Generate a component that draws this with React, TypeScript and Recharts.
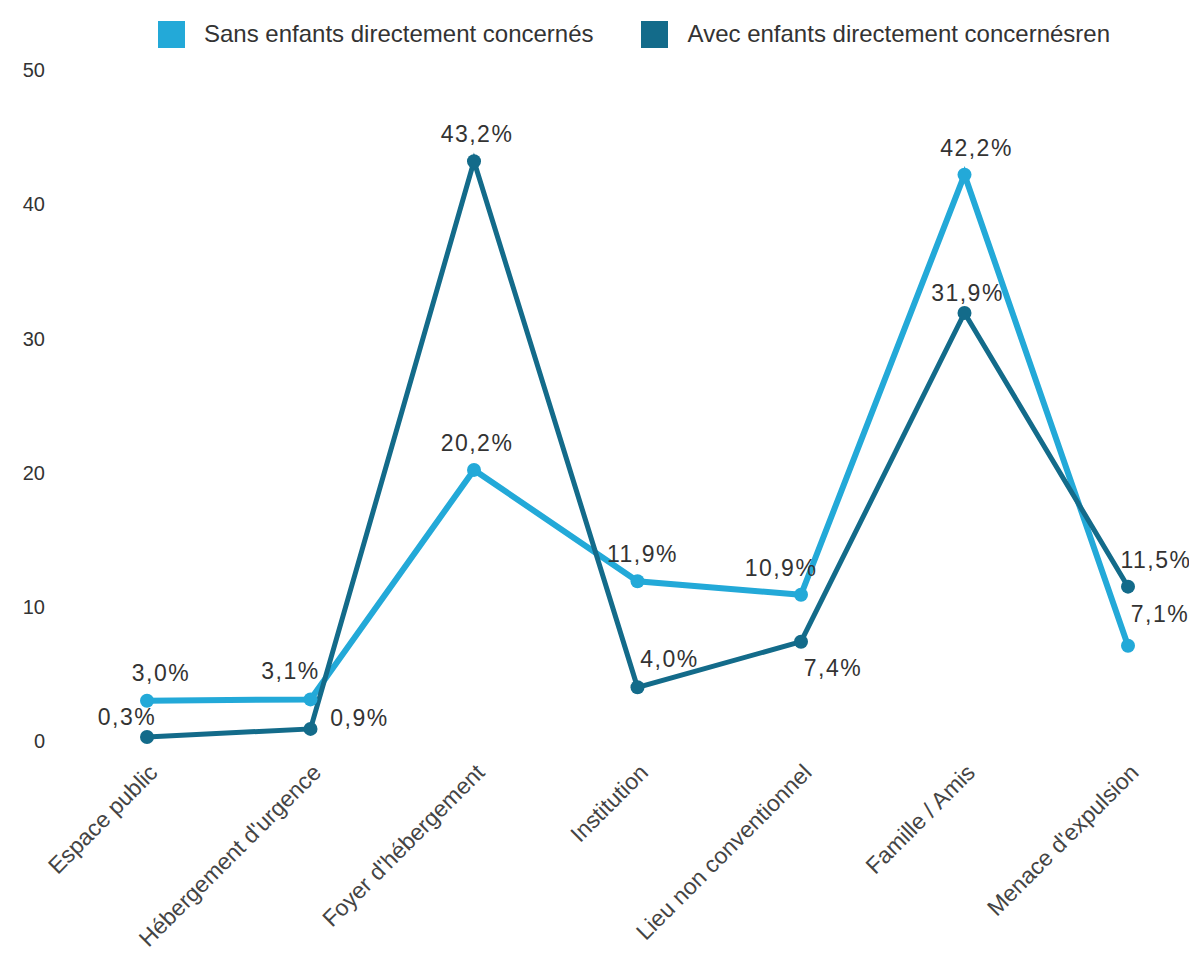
import React from 'react';
import { LineChart, Line, XAxis, YAxis, Legend, LabelList } from 'recharts';

const categories = [
  'Espace public',
  "Hébergement d'urgence",
  "Foyer d'hébergement",
  'Institution',
  'Lieu non conventionnel',
  'Famille / Amis',
  "Menace d'expulsion",
];
const sansEnfants = [3.0, 3.1, 20.2, 11.9, 10.9, 42.2, 7.1];
const avecEnfants = [0.3, 0.9, 43.2, 4.0, 7.4, 31.9, 11.5];
const yTicks = [0, 10, 20, 30, 40, 50];

const seriesNames = {
  sans: 'Sans enfants directement concernés',
  avec: 'Avec enfants directement concernésren',
};

const data = categories.map((name, i) => ({
  name,
  sans: sansEnfants[i],
  avec: avecEnfants[i],
}));

const COLOR_SANS = '#23a9d8';
const COLOR_AVEC = '#136b8a';
const FONT = '"Liberation Sans", Arial, sans-serif';

// label nudges (dx, dy) per point, to avoid collisions like the original
const labelNudgeSans: [number, number][] = [
  [14, -20], [-20, -20], [3, -19], [5, -19], [-20, -19], [12, -19], [32, -24],
];
const labelNudgeAvec: [number, number][] = [
  [-20, -12], [49, -3], [3, -19], [32, -20], [32, 34], [3, -12], [28, -19],
];

const fmt = (v: number) => v.toFixed(1).replace('.', ',') + '%';

const makeLabel = (nudges: [number, number][]) => (props: any) => {
  const { x, y, value, index } = props;
  const [dx, dy] = nudges[index] || [0, -19];
  return (
    <text
      x={x + dx}
      y={y + dy}
      textAnchor="middle"
      fontFamily={FONT}
      fontSize={23}
      letterSpacing={1.5}
      fill="#333"
    >
      {fmt(value)}
    </text>
  );
};

const XTick = (props: any) => {
  const { x, y, payload } = props;
  return (
    <g transform={`translate(${x + 12},${y + 25})`}>
      <text
        textAnchor="end"
        transform="rotate(-45)"
        fontFamily={FONT}
        fontSize={23}
        fill="#444"
      >
        {payload.value}
      </text>
    </g>
  );
};

const LegendContent = () => (
  <div
    style={{
      display: 'flex',
      alignItems: 'center',
      paddingLeft: 150,
      paddingTop: 0,
      fontFamily: FONT,
      fontSize: 24,
      color: '#333',
    }}
  >
    <span style={{ width: 27, height: 27, background: COLOR_SANS, display: 'inline-block' }} />
    <span style={{ marginLeft: 19 }}>{seriesNames.sans}</span>
    <span
      style={{ width: 27, height: 27, background: COLOR_AVEC, display: 'inline-block', marginLeft: 47 }}
    />
    <span style={{ marginLeft: 20 }}>{seriesNames.avec}</span>
  </div>
);

export default function App() {
  return (
    <div style={{ width: 1189, height: 945 }}>
      <LineChart
        width={1189}
        height={945}
        data={data}
        margin={{ top: 12, right: 0, left: 0, bottom: 0 }}
      >
        <Legend
          verticalAlign="top"
          align="left"
          content={<LegendContent />}
          wrapperStyle={{ height: 50, left: 0, width: 1189 }}
        />
        <XAxis
          dataKey="name"
          axisLine={false}
          tickLine={false}
          interval={0}
          height={212}
          padding={{ left: 94, right: 69 }}
          tick={<XTick />}
        />
        <YAxis
          width={45}
          domain={[0, 50]}
          ticks={yTicks}
          axisLine={false}
          tickLine={false}
          tickSize={0}
          tickMargin={8}
          tick={{ fontSize: 20, fill: '#333', fontFamily: FONT }}
        />
        <Line
          type="linear"
          dataKey="sans"
          name={seriesNames.sans}
          stroke={COLOR_SANS}
          strokeWidth={6}
          dot={{ r: 7, fill: COLOR_SANS, stroke: COLOR_SANS, strokeWidth: 0 }}
          activeDot={false}
          isAnimationActive={false}
        >
          <LabelList dataKey="sans" content={makeLabel(labelNudgeSans)} />
        </Line>
        <Line
          type="linear"
          dataKey="avec"
          name={seriesNames.avec}
          stroke={COLOR_AVEC}
          strokeWidth={5}
          dot={{ r: 7, fill: COLOR_AVEC, stroke: COLOR_AVEC, strokeWidth: 0 }}
          activeDot={false}
          isAnimationActive={false}
        >
          <LabelList dataKey="avec" content={makeLabel(labelNudgeAvec)} />
        </Line>
      </LineChart>
    </div>
  );
}
